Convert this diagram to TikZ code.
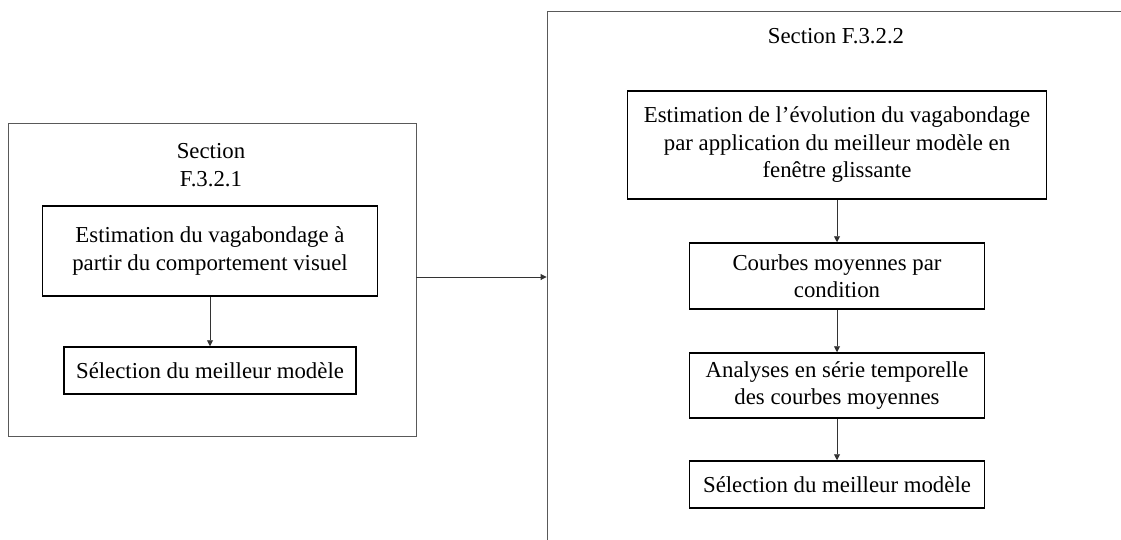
\documentclass[tikz,border=0pt]{standalone}
\usepackage{fontspec}
\setmainfont{Liberation Serif}
\usetikzlibrary{arrows.meta}

\begin{document}
\begin{tikzpicture}[
  x=1pt, y=-1pt,
  font=\fontsize{22.8}{27.5}\selectfont,
  sec_box/.style={rectangle, draw=black!65, line width=0.9pt, inner sep=0pt},
  step_box/.style={rectangle, draw=black, line width=1.5pt, inner sep=0pt, align=center},
  sec_title/.style={align=center, inner sep=0pt},
  flow_arrow/.style={draw=black!80, line width=0.9pt, -{Triangle[length=6pt, width=6pt]}},
]
\useasboundingbox (0,0) rectangle (1121,539);
% left section
\draw (212,279.5) node (lsec) [sec_box, minimum width=408pt, minimum height=313pt] {};
\draw (211,165) node (ltitle) [sec_title] {Section\\F.3.2.1};
\draw (210,251) node (lest) [step_box, minimum width=335pt, minimum height=90pt] {Estimation du vagabondage à\\partir du comportement visuel};
\draw (210,370.5) node (lsel) [step_box, minimum width=292pt, minimum height=47pt] {Sélection du meilleur modèle};
% right section (runs off the page)
\draw (877,341) node (rsec) [sec_box, minimum width=660pt, minimum height=660pt] {};
\draw (836,36) node (rtitle) [sec_title] {Section F.3.2.2};
\draw (837,145) node (rest) [step_box, minimum width=419pt, minimum height=108pt] {Estimation de l’évolution du vagabondage\\par application du meilleur modèle en\\fenêtre glissante};
\draw (837,276) node (rcurv) [step_box, minimum width=295pt, minimum height=66pt] {Courbes moyennes par\\condition};
\draw (837,385.5) node (rana) [step_box, minimum width=295pt, minimum height=65pt] {Analyses en série temporelle\\des courbes moyennes};
\draw (837,484.5) node (rsel) [step_box, minimum width=295pt, minimum height=47pt] {Sélection du meilleur modèle};
% connectors
\draw [flow_arrow] (lest) -- (lsel);
\draw [flow_arrow] ([yshift=2.5pt]lsec.east) -- ([yshift=2.5pt]lsec.east -| rsec.west);
\draw [flow_arrow] (rest) -- (rcurv);
\draw [flow_arrow] (rcurv) -- (rana);
\draw [flow_arrow] (rana) -- (rsel);
\end{tikzpicture}
\end{document}
